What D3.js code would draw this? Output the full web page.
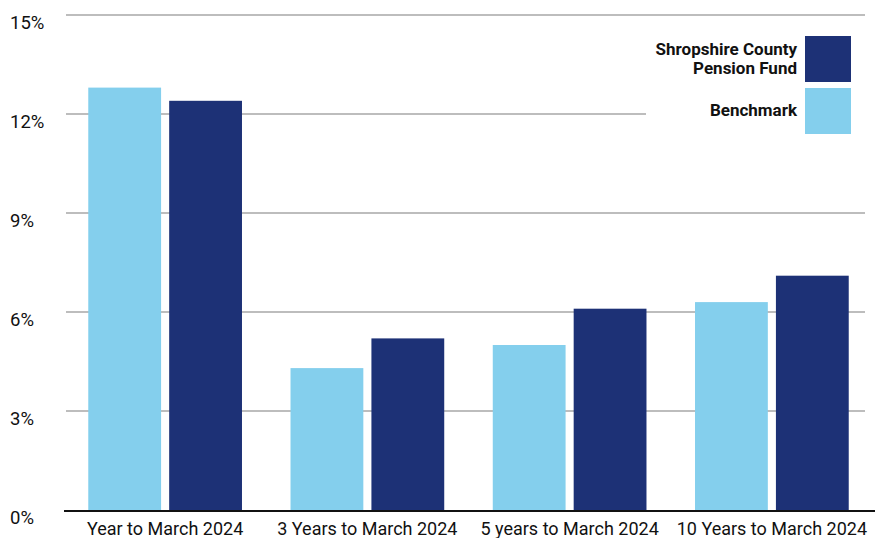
<!DOCTYPE html>
<html>
<head>
<meta charset="utf-8">
<script src="https://cdn.jsdelivr.net/npm/d3@7"></script>
<style>
  body { margin: 0; background: #fff; }
  text { font-family: Roboto, "Noto Sans", sans-serif; fill: #111; }
</style>
</head>
<body>
<svg width="875" height="538"></svg>
<script>
var categories = ["Year to March 2024", "3 Years to March 2024", "5 years to March 2024", "10 Years to March 2024"];
var series = ["Benchmark", "Shropshire County Pension Fund"];
var benchmark = [12.8, 4.3, 5.0, 6.3];
var fund = [12.4, 5.2, 6.1, 7.1];
var yTicks = [0, 3, 6, 9, 12, 15];

var colors = { "Benchmark": "#84cfed", "Shropshire County Pension Fund": "#1d3176" };

var svg = d3.select("svg");

var x0 = d3.scaleBand()
  .domain(categories)
  .range([64, 873])
  .paddingInner(0.24)
  .paddingOuter(0.12);

var x1 = d3.scaleBand()
  .domain(series)
  .range([0, x0.bandwidth()])
  .paddingInner(0.1);

var y = d3.scaleLinear()
  .domain([0, 15])
  .range([510, 15]);

// gridlines
var grid = svg.append("g");
grid.selectAll("line")
  .data(yTicks.filter(function (d) { return d > 0; }))
  .enter()
  .append("line")
  .attr("x1", 66)
  .attr("x2", 865)
  .attr("y1", function (d) { return y(d); })
  .attr("y2", function (d) { return y(d); })
  .attr("stroke", "#bdbdbd")
  .attr("stroke-width", 2);

// y labels
svg.append("g").selectAll("text")
  .data(yTicks)
  .enter()
  .append("text")
  .attr("x", 10)
  .attr("y", function (d) { return y(d) + 14; })
  .attr("font-size", 18.5)
  .text(function (d) { return d + "%"; });

// bars
var rows = categories.map(function (c, i) {
  return { cat: c, values: [
    { key: "Benchmark", v: benchmark[i] },
    { key: "Shropshire County Pension Fund", v: fund[i] }
  ] };
});

var gs = svg.append("g").selectAll("g")
  .data(rows)
  .enter()
  .append("g")
  .attr("transform", function (d) { return "translate(" + x0(d.cat) + ",0)"; });

gs.selectAll("rect")
  .data(function (d) { return d.values; })
  .enter()
  .append("rect")
  .attr("x", function (d) { return x1(d.key); })
  .attr("width", x1.bandwidth())
  .attr("y", function (d) { return y(d.v); })
  .attr("height", function (d) { return y(0) - y(d.v); })
  .attr("fill", function (d) { return colors[d.key]; });

// baseline
svg.append("line")
  .attr("x1", 64).attr("x2", 875)
  .attr("y1", y(0) + 1).attr("y2", y(0) + 1)
  .attr("stroke", "#111")
  .attr("stroke-width", 2);

// x labels
svg.append("g").selectAll("text")
  .data(categories)
  .enter()
  .append("text")
  .attr("x", function (d) { return x0(d) + x0.bandwidth() / 2; })
  .attr("y", 535)
  .attr("text-anchor", "middle")
  .attr("font-size", 18)
  .text(function (d) { return d; });

// legend
var lg = svg.append("g");
lg.append("rect")
  .attr("x", 646).attr("y", 30)
  .attr("width", 222).attr("height", 110)
  .attr("fill", "#fff");

var legendItems = [
  { key: "Shropshire County Pension Fund", lines: ["Shropshire County", "Pension Fund"], y: 36 },
  { key: "Benchmark", lines: ["Benchmark"], y: 88 }
];

legendItems.forEach(function (it) {
  lg.append("rect")
    .attr("x", 805).attr("y", it.y)
    .attr("width", 46).attr("height", 46)
    .attr("fill", colors[it.key]);
  var startY = it.lines.length === 2 ? it.y + 19 : it.y + 28;
  it.lines.forEach(function (l, i) {
    lg.append("text")
      .attr("x", 797)
      .attr("y", startY + i * 19)
      .attr("text-anchor", "end")
      .attr("font-size", 17)
      .attr("font-weight", 700)
      .text(l);
  });
});
</script>
</body>
</html>
